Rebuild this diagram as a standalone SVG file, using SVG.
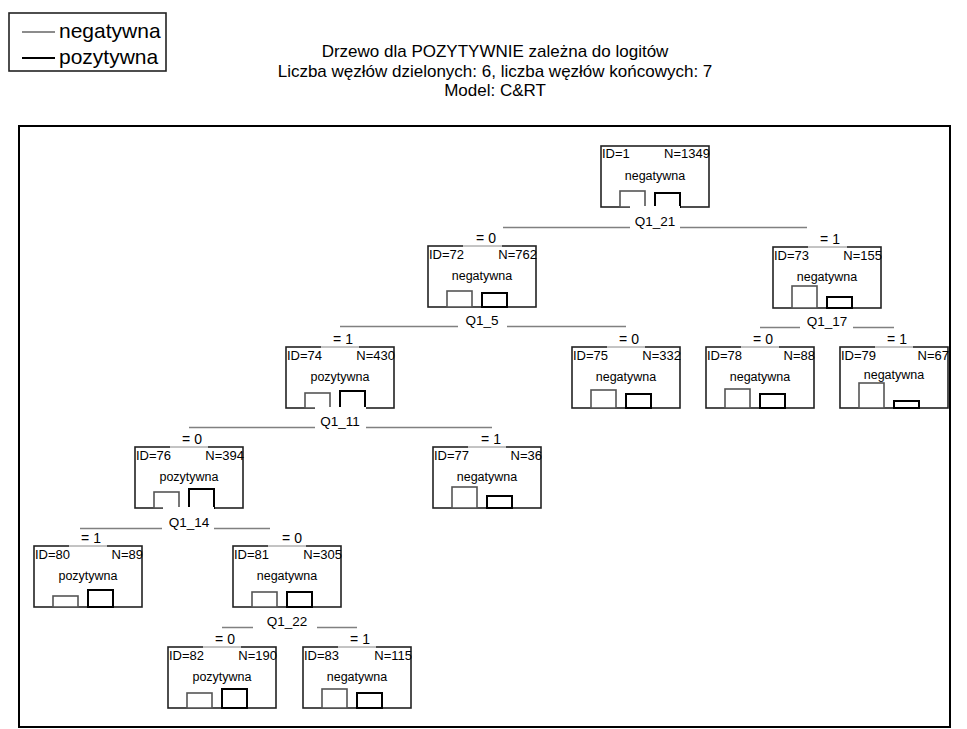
<svg xmlns="http://www.w3.org/2000/svg" width="967" height="729" viewBox="0 0 967 729">
  <style>
    text { font-family: "Liberation Sans", Arial, sans-serif; fill: #000; }
    .leg { font-size: 21px; }
    .title { font-size: 17px; text-anchor: middle; }
    .box { fill: #fff; stroke: #222; stroke-width: 1.6; }
    .topgap { stroke: #fff; stroke-width: 3; }
    .topmid { stroke: #888; stroke-width: 1; }
    .gbar { fill: #fff; stroke: #555; stroke-width: 1.6; }
    .bbar { fill: #fff; stroke: #000; stroke-width: 2; }
    .idt { font-size: 13px; }
    .nt { font-size: 13px; text-anchor: end; }
    .cls { font-size: 12.5px; text-anchor: middle; }
    .br { font-size: 14px; text-anchor: middle; }
    .sp { font-size: 13.5px; text-anchor: middle; }
    .split { stroke: #808080; stroke-width: 1.5; fill: none; }
    .lbg { fill: #fff; stroke: none; }
  </style>

  <rect x="0" y="0" width="967" height="729" fill="#fff"/>

  <!-- legend -->
  <g id="legend">
    <rect x="9" y="13" width="157" height="58" fill="#fff" stroke="#222" stroke-width="1.6"/>
    <line x1="22" y1="32" x2="55" y2="32" stroke="#666" stroke-width="1.5"/>
    <text class="leg" x="59" y="38">negatywna</text>
    <line x1="22" y1="58" x2="55" y2="58" stroke="#000" stroke-width="2"/>
    <text class="leg" x="59" y="64">pozytywna</text>
  </g>

  <!-- title -->
  <g id="title">
    <text class="title" x="495" y="57">Drzewo dla POZYTYWNIE zależna do logitów</text>
    <text class="title" x="495" y="76.5">Liczba węzłów dzielonych: 6, liczba węzłów końcowych: 7</text>
    <text class="title" x="495" y="96">Model: C&amp;RT</text>
  </g>

  <!-- plot frame -->
  <rect x="19" y="126" width="931" height="601" fill="none" stroke="#000" stroke-width="2"/>

  <!-- split connectors -->
  <g id="connectors">
    <path class="split" d="M503 227.5H630M680 227.5H807"/>
    <path class="split" d="M340 326.5H458M507 326.5H626"/>
    <path class="split" d="M760 327.5H800M853 327.5H894"/>
    <path class="split" d="M189 427.5H315M366 427.5H492"/>
    <path class="split" d="M80 528.5H162M214 528.5H270"/>
    <path class="split" d="M222 627.5H253M317 627.5H357"/>
  </g>

  <!-- node 1 -->
  <g id="node1">
    <rect class="box" x="601" y="146" width="108" height="61"/>
    <text class="idt" x="602" y="158">ID=1</text>
    <text class="nt" x="710" y="158">N=1349</text>
    <text class="cls" x="655" y="179.5">negatywna</text>
    <rect class="gbar" x="620" y="191" width="25" height="16"/>
    <rect class="bbar" x="655" y="193" width="25" height="14"/>
    <rect class="lbg" x="630" y="206" width="50" height="20"/>
    <text class="sp" x="655" y="226">Q1_21</text>
  </g>

  <!-- node 72 -->
  <g id="node72">
    <rect class="box" x="428" y="246" width="108" height="61"/>
    <line class="topgap" x1="463" y1="246" x2="502" y2="246"/>
    <line class="topmid" x1="463" y1="246" x2="502" y2="246"/>
    <text class="br" x="486" y="243">= 0</text>
    <text class="idt" x="429" y="259">ID=72</text>
    <text class="nt" x="537" y="259">N=762</text>
    <text class="cls" x="482" y="279.5">negatywna</text>
    <rect class="gbar" x="447" y="291" width="25" height="16"/>
    <rect class="bbar" x="482" y="293" width="25" height="14"/>
    <text class="sp" x="482" y="325">Q1_5</text>
  </g>

  <!-- node 73 -->
  <g id="node73">
    <rect class="box" x="773" y="247" width="108" height="61"/>
    <line class="topgap" x1="808" y1="247" x2="847" y2="247"/>
    <line class="topmid" x1="808" y1="247" x2="847" y2="247"/>
    <text class="br" x="830" y="244">= 1</text>
    <text class="idt" x="774" y="260">ID=73</text>
    <text class="nt" x="882" y="260">N=155</text>
    <text class="cls" x="827" y="280.5">negatywna</text>
    <rect class="gbar" x="792" y="286" width="25" height="22"/>
    <rect class="bbar" x="827" y="297" width="25" height="11"/>
    <text class="sp" x="827" y="326">Q1_17</text>
  </g>

  <!-- node 74 -->
  <g id="node74">
    <rect class="box" x="286" y="347" width="108" height="61"/>
    <line class="topgap" x1="321" y1="347" x2="359" y2="347"/>
    <line class="topmid" x1="321" y1="347" x2="359" y2="347"/>
    <text class="br" x="343" y="344">= 1</text>
    <text class="idt" x="287" y="360">ID=74</text>
    <text class="nt" x="395" y="360">N=430</text>
    <text class="cls" x="340" y="380.5">pozytywna</text>
    <rect class="gbar" x="305" y="393" width="25" height="15"/>
    <rect class="bbar" x="340" y="391" width="25" height="17"/>
    <rect class="lbg" x="315" y="407" width="51" height="19"/>
    <text class="sp" x="340" y="426">Q1_11</text>
  </g>

  <!-- node 75 -->
  <g id="node75">
    <rect class="box" x="572" y="347" width="108" height="61"/>
    <line class="topgap" x1="607" y1="347" x2="645" y2="347"/>
    <line class="topmid" x1="607" y1="347" x2="645" y2="347"/>
    <text class="br" x="629" y="344">= 0</text>
    <text class="idt" x="573" y="360">ID=75</text>
    <text class="nt" x="681" y="360">N=332</text>
    <text class="cls" x="626" y="380.5">negatywna</text>
    <rect class="gbar" x="591" y="390" width="25" height="18"/>
    <rect class="bbar" x="626" y="394" width="25" height="14"/>
  </g>

  <!-- node 78 -->
  <g id="node78">
    <rect class="box" x="706" y="347" width="108" height="61"/>
    <line class="topgap" x1="741" y1="347" x2="779" y2="347"/>
    <line class="topmid" x1="741" y1="347" x2="779" y2="347"/>
    <text class="br" x="763" y="344">= 0</text>
    <text class="idt" x="707" y="360">ID=78</text>
    <text class="nt" x="815" y="360">N=88</text>
    <text class="cls" x="760" y="380.5">negatywna</text>
    <rect class="gbar" x="725" y="389" width="25" height="19"/>
    <rect class="bbar" x="760" y="394" width="25" height="14"/>
  </g>

  <!-- node 79 -->
  <g id="node79">
    <rect class="box" x="840" y="347" width="108" height="61"/>
    <line class="topgap" x1="875" y1="347" x2="913" y2="347"/>
    <line class="topmid" x1="875" y1="347" x2="913" y2="347"/>
    <text class="br" x="897" y="344">= 1</text>
    <text class="idt" x="841" y="360">ID=79</text>
    <text class="nt" x="949" y="360">N=67</text>
    <text class="cls" x="894" y="378.5">negatywna</text>
    <rect class="gbar" x="859" y="383" width="25" height="25"/>
    <rect class="bbar" x="894" y="401" width="25" height="7"/>
  </g>

  <!-- node 76 -->
  <g id="node76">
    <rect class="box" x="135" y="447" width="108" height="61"/>
    <line class="topgap" x1="170" y1="447" x2="208" y2="447"/>
    <line class="topmid" x1="170" y1="447" x2="208" y2="447"/>
    <text class="br" x="192" y="444">= 0</text>
    <text class="idt" x="136" y="460">ID=76</text>
    <text class="nt" x="244" y="460">N=394</text>
    <text class="cls" x="189" y="480.5">pozytywna</text>
    <rect class="gbar" x="154" y="492" width="25" height="16"/>
    <rect class="bbar" x="189" y="489" width="25" height="19"/>
    <rect class="lbg" x="163" y="507" width="51" height="20"/>
    <text class="sp" x="189" y="527">Q1_14</text>
  </g>

  <!-- node 77 -->
  <g id="node77">
    <rect class="box" x="433" y="447" width="108" height="61"/>
    <line class="topgap" x1="468" y1="447" x2="506" y2="447"/>
    <line class="topmid" x1="468" y1="447" x2="506" y2="447"/>
    <text class="br" x="491" y="444">= 1</text>
    <text class="idt" x="434" y="460">ID=77</text>
    <text class="nt" x="542" y="460">N=36</text>
    <text class="cls" x="487" y="480.5">negatywna</text>
    <rect class="gbar" x="452" y="487" width="25" height="21"/>
    <rect class="bbar" x="487" y="496" width="25" height="12"/>
  </g>

  <!-- node 80 -->
  <g id="node80">
    <rect class="box" x="34" y="546" width="108" height="61"/>
    <line class="topgap" x1="69" y1="546" x2="107" y2="546"/>
    <line class="topmid" x1="69" y1="546" x2="107" y2="546"/>
    <text class="br" x="91" y="543">= 1</text>
    <text class="idt" x="35" y="559">ID=80</text>
    <text class="nt" x="143" y="559">N=89</text>
    <text class="cls" x="88" y="579.5">pozytywna</text>
    <rect class="gbar" x="53" y="596" width="25" height="11"/>
    <rect class="bbar" x="88" y="590" width="25" height="17"/>
  </g>

  <!-- node 81 -->
  <g id="node81">
    <rect class="box" x="233" y="546" width="108" height="61"/>
    <line class="topgap" x1="268" y1="546" x2="306" y2="546"/>
    <line class="topmid" x1="268" y1="546" x2="306" y2="546"/>
    <text class="br" x="292" y="543">= 0</text>
    <text class="idt" x="234" y="559">ID=81</text>
    <text class="nt" x="342" y="559">N=305</text>
    <text class="cls" x="287" y="579.5">negatywna</text>
    <rect class="gbar" x="252" y="592" width="25" height="15"/>
    <rect class="bbar" x="287" y="592" width="25" height="15"/>
    <text class="sp" x="287" y="626">Q1_22</text>
  </g>

  <!-- node 82 -->
  <g id="node82">
    <rect class="box" x="168" y="647" width="108" height="61"/>
    <line class="topgap" x1="203" y1="647" x2="241" y2="647"/>
    <line class="topmid" x1="203" y1="647" x2="241" y2="647"/>
    <text class="br" x="225" y="644">= 0</text>
    <text class="idt" x="169" y="660">ID=82</text>
    <text class="nt" x="277" y="660">N=190</text>
    <text class="cls" x="222" y="680.5">pozytywna</text>
    <rect class="gbar" x="187" y="693" width="25" height="15"/>
    <rect class="bbar" x="222" y="689" width="25" height="19"/>
  </g>

  <!-- node 83 -->
  <g id="node83">
    <rect class="box" x="303" y="647" width="108" height="61"/>
    <line class="topgap" x1="338" y1="647" x2="376" y2="647"/>
    <line class="topmid" x1="338" y1="647" x2="376" y2="647"/>
    <text class="br" x="360" y="644">= 1</text>
    <text class="idt" x="304" y="660">ID=83</text>
    <text class="nt" x="412" y="660">N=115</text>
    <text class="cls" x="357" y="680.5">negatywna</text>
    <rect class="gbar" x="322" y="689" width="25" height="19"/>
    <rect class="bbar" x="357" y="693" width="25" height="15"/>
  </g>
</svg>
